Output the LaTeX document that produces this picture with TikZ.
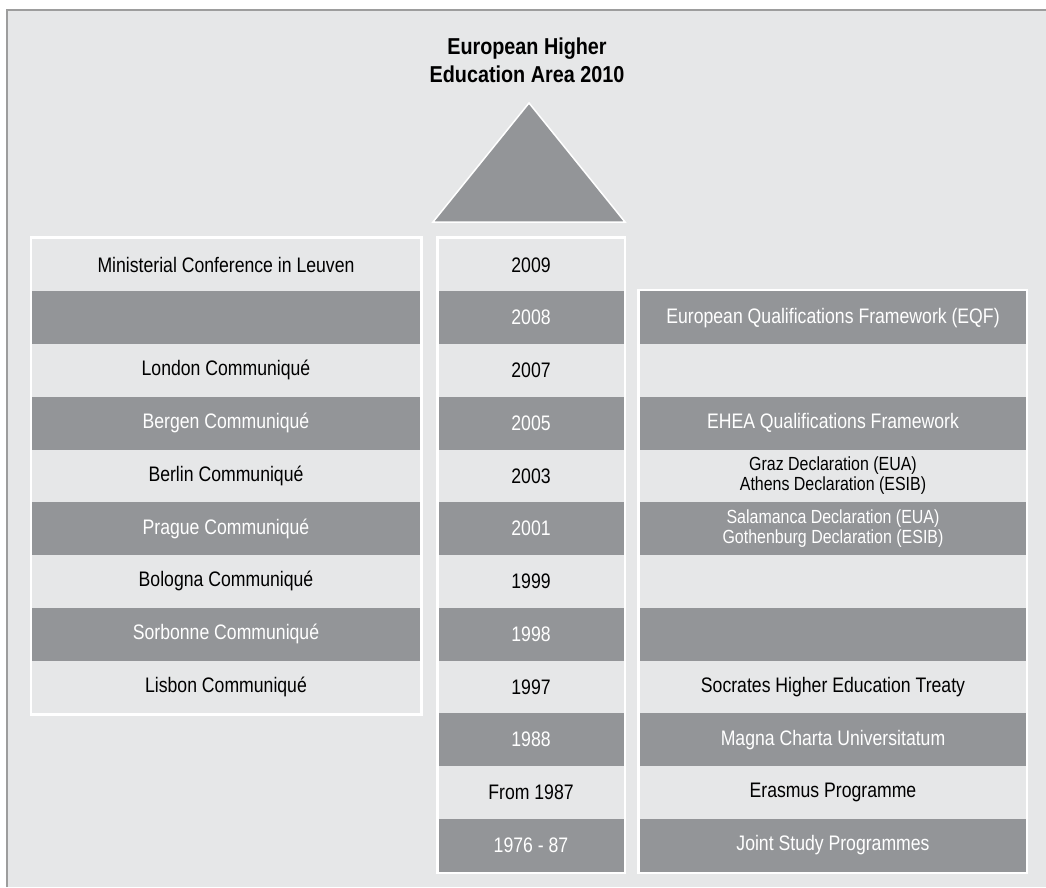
\documentclass[tikz,border=0pt]{standalone}
\usepackage{fontspec}
\setmainfont{Liberation Sans}[FakeStretch=0.84]
\newfontfamily\titlefont{Liberation Sans}[FakeStretch=0.86]
\definecolor{bg}{HTML}{E6E7E8}
\definecolor{dk}{HTML}{939598}
\definecolor{framec}{HTML}{9D9D9D}
\tikzset{
  cell/.style={anchor=north west, inner sep=0pt, outer sep=0pt, minimum height=52.75pt, align=center, font=\fontsize{21}{23}\selectfont},
  lightcell/.style={cell, fill=bg, text=black},
  darkcell/.style={cell, fill=dk, text=white},
  lcol/.style={minimum width=388pt},
  mcol/.style={minimum width=185pt},
  rcol/.style={minimum width=386pt},
  twoline/.style={font=\fontsize{19}{20}\selectfont},
  colframe/.style={fill=white},
}
\begin{document}
\begin{tikzpicture}[x=1pt,y=-1pt]
\useasboundingbox (0,0) rectangle (1046,887);
\fill[white] (0,0) rectangle (1046,887);
\fill[bg] (7,10) rectangle (1046,887);
\draw[framec, line width=2.5pt] (7,887) -- (7,10) -- (1046,10);

% title
\node[font=\titlefont\fontsize{23}{28.4}\selectfont\bfseries, align=center, anchor=center] (title) at (527,60.5) {European Higher\\Education Area 2010};

% triangle
\coordinate (apex) at (529,103);
\coordinate (bl) at (433,222);
\coordinate (br) at (625,222);
\filldraw[fill=dk, draw=white, line width=1.5pt, line join=miter] (apex) -- (bl) -- (br) -- cycle;

% column frames
\fill[colframe] (29.5,236) rectangle (422.7,716);
\fill[colframe] (436,236) rectangle (626,874);
\fill[colframe] (636.7,289.3) rectangle (1028.3,874);

% left column
\node[lightcell, lcol] (l0) at (32,238.5) {Ministerial Conference in Leuven};
\node[darkcell, lcol] (l1) at (32,291.25) {};
\node[lightcell, lcol] (l2) at (32,344) {London Communiqué};
\node[darkcell, lcol] (l3) at (32,396.75) {Bergen Communiqué};
\node[lightcell, lcol] (l4) at (32,449.5) {Berlin Communiqué};
\node[darkcell, lcol] (l5) at (32,502.25) {Prague Communiqué};
\node[lightcell, lcol] (l6) at (32,555) {Bologna Communiqué};
\node[darkcell, lcol] (l7) at (32,607.75) {Sorbonne Communiqué};
\node[lightcell, lcol] (l8) at (32,660.5) {Lisbon Communiqué};

% middle column
\node[lightcell, mcol] (m0) at (438.5,238.5) {2009};
\node[darkcell, mcol] (m1) at (438.5,291.25) {2008};
\node[lightcell, mcol] (m2) at (438.5,344) {2007};
\node[darkcell, mcol] (m3) at (438.5,396.75) {2005};
\node[lightcell, mcol] (m4) at (438.5,449.5) {2003};
\node[darkcell, mcol] (m5) at (438.5,502.25) {2001};
\node[lightcell, mcol] (m6) at (438.5,555) {1999};
\node[darkcell, mcol] (m7) at (438.5,607.75) {1998};
\node[lightcell, mcol] (m8) at (438.5,660.5) {1997};
\node[darkcell, mcol] (m9) at (438.5,713.25) {1988};
\node[lightcell, mcol] (m10) at (438.5,766) {From 1987};
\node[darkcell, mcol] (m11) at (438.5,818.75) {1976 - 87};

% right column
\node[darkcell, rcol] (r1) at (640,291.25) {European Qualifications Framework (EQF)};
\node[lightcell, rcol] (r2) at (640,344) {};
\node[darkcell, rcol] (r3) at (640,396.75) {EHEA Qualifications Framework};
\node[lightcell, rcol, twoline] (r4) at (640,449.5) {Graz Declaration (EUA)\\Athens Declaration (ESIB)};
\node[darkcell, rcol, twoline] (r5) at (640,502.25) {Salamanca Declaration (EUA)\\Gothenburg Declaration (ESIB)};
\node[lightcell, rcol] (r6) at (640,555) {};
\node[darkcell, rcol] (r7) at (640,607.75) {};
\node[lightcell, rcol] (r8) at (640,660.5) {Socrates Higher Education Treaty};
\node[darkcell, rcol] (r9) at (640,713.25) {Magna Charta Universitatum};
\node[lightcell, rcol] (r10) at (640,766) {Erasmus Programme};
\node[darkcell, rcol] (r11) at (640,818.75) {Joint Study Programmes};
\end{tikzpicture}
\end{document}
